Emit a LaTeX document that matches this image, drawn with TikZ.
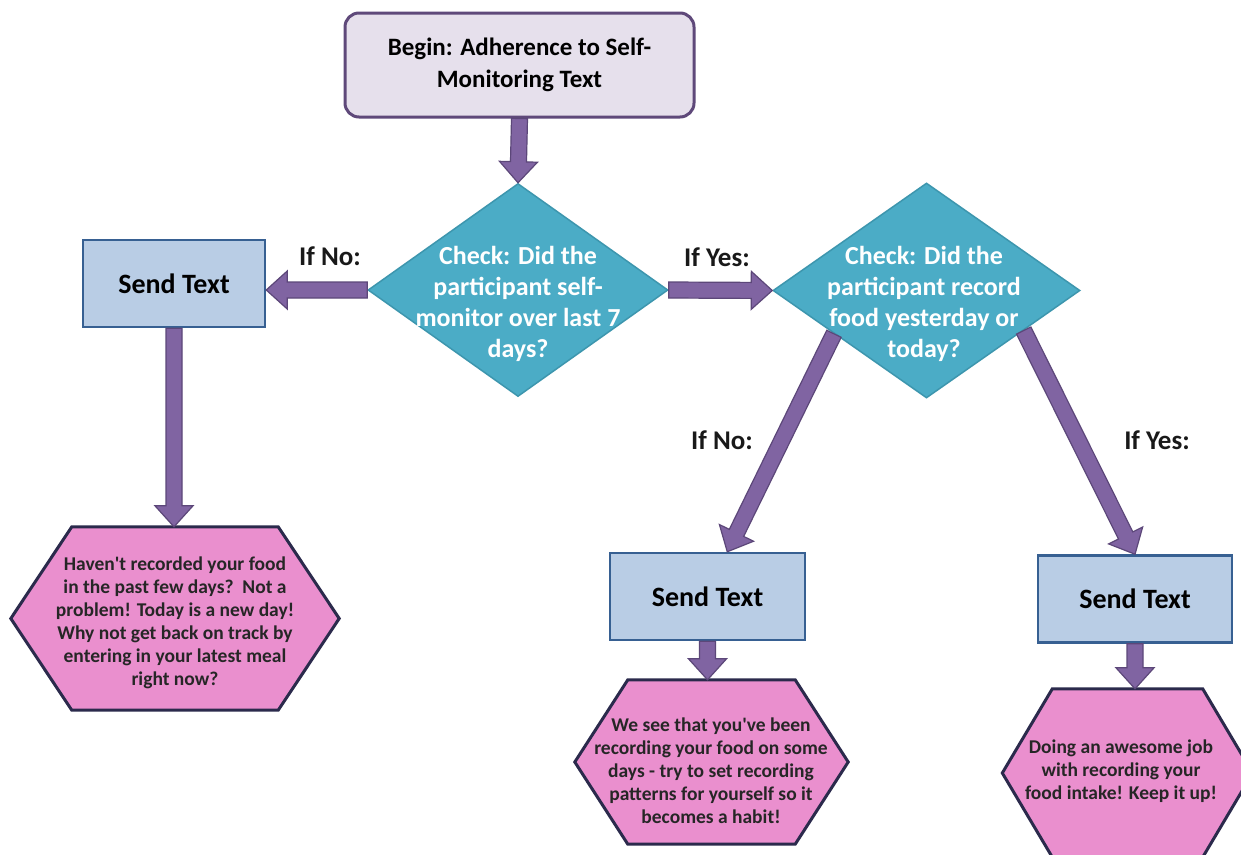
\documentclass[tikz,border=0pt]{standalone}
\usepackage{fontspec}
\setmainfont{Carlito}
\usetikzlibrary{shapes.geometric,calc,backgrounds}
\definecolor{beginfill}{HTML}{E6E0EC}
\definecolor{beginline}{HTML}{5F497A}
\definecolor{diafill}{HTML}{4BACC6}
\definecolor{dialine}{HTML}{3D96AE}
\definecolor{sendfill}{HTML}{B9CDE5}
\definecolor{sendline}{HTML}{376092}
\definecolor{hexfill}{HTML}{EA8FCE}
\definecolor{hexline}{HTML}{2B2A4C}
\definecolor{arrfill}{HTML}{8064A2}
\definecolor{arrline}{HTML}{5C4779}
\tikzset{
 startbox/.style={draw=beginline, fill=beginfill, line width=3pt, rounded corners=14pt,
   minimum width=349pt, minimum height=104pt, align=center,
   font=\fontsize{25}{32}\selectfont\bfseries},
 sendbox/.style={draw=sendline, fill=sendfill, line width=2.5pt, minimum width=182pt,
   minimum height=87pt, font=\fontsize{28}{32}\selectfont\bfseries},
 dia/.style={diamond, draw=dialine, fill=diafill, line width=1.5pt, inner sep=0pt,
   minimum width=300pt, minimum height=213pt},
 diatext/.style={text=white, align=center, font=\fontsize{26}{31}\selectfont\bfseries},
 hexbox/.style={inner sep=0pt},
 hextext/.style={inner sep=0pt, align=center, font=\fontsize{19.5}{23}\selectfont\bfseries, text=black!85},
 hexshape/.style={draw=hexline, fill=hexfill, line width=3pt, line join=miter},
 barrow/.style={fill=arrfill, draw=arrline, line width=1.2pt, line join=miter},
 lbl/.style={font=\fontsize{27}{30}\selectfont\bfseries, text=black!90}
}
\newcommand{\hexa}[2]{%
 \begin{scope}[on background layer]
 \draw[hexshape] (#1.west) -- ($(#1.north west)+(#2,0)$) -- ($(#1.north east)+(-#2,0)$)
   -- (#1.east) -- ($(#1.south east)+(-#2,0)$) -- ($(#1.south west)+(#2,0)$) -- cycle;
 \end{scope}}
\newcommand{\blockarrow}[2]{%
 \coordinate (ba-s) at (#1);
 \coordinate (ba-e) at (#2);
 \coordinate (ba-h) at ($(ba-e)!21pt!(ba-s)$);
 \draw[barrow] ($(ba-s)!8pt!90:(ba-e)$) -- ($(ba-h)!8pt!90:(ba-e)$) -- ($(ba-h)!19pt!90:(ba-e)$)
   -- (ba-e) -- ($(ba-h)!19pt!-90:(ba-e)$) -- ($(ba-h)!8pt!-90:(ba-e)$)
   -- ($(ba-s)!8pt!-90:(ba-e)$) -- cycle;}
\begin{document}
\begin{tikzpicture}[x=1pt,y=-1pt]
\useasboundingbox (0,0) rectangle (1241,854);
\begin{scope}[on background layer]
\fill[white] (0,0) rectangle (1241,854);
\end{scope}

\node[startbox] (begin) at (519.5,65) {Begin: Adherence to Self-\\Monitoring Text};

\node[dia] (d1) at (518,290) {};
\node[diatext] (d1t) at (518,304) {Check: Did the\\participant self-\\monitor over last 7\\days?};

\node[dia, minimum width=307pt, minimum height=215pt] (d2) at (926.5,290.5) {};
\node[diatext] (d2t) at (924,304) {Check: Did the\\participant record\\food yesterday or\\today?};

\node[sendbox] (s1) at (174,283.5) {Send Text};
\node[sendbox, minimum width=195pt] (s2) at (707.5,596.5) {Send Text};
\node[sendbox, minimum width=194pt] (s3) at (1135,599) {Send Text};

\node[hexbox, minimum width=328pt, minimum height=183pt] (h1) at (175,618.5) {};
\hexa{h1}{61}
\node[hextext] (h1t) at (175,623)
  {Haven\textquotesingle t recorded your food\\in the past few days?~~Not a\\problem! Today is a new day!\\Why not get back on track by\\entering in your latest meal\\right now?};
\node[hexbox, minimum width=273pt, minimum height=164pt] (h2) at (711.5,762) {};
\hexa{h2}{53}
\node[hextext] (h2t) at (711,771)
  {We see that you\textquotesingle ve been\\recording your food on some\\days - try to set recording\\patterns for yourself so it\\becomes a habit!};
\node[hexbox, minimum width=250pt, minimum height=168pt] (h3) at (1127.5,773) {};
\hexa{h3}{50}
\node[hextext] (h3t) at (1121,771)
  {Doing an awesome job\\with recording your\\food intake! Keep it up!};

\blockarrow{begin.south}{d1.north}
\blockarrow{d1.west}{s1.east |- d1.west}
\blockarrow{d1.east}{d2.west}
\blockarrow{s1.south}{s1.south |- h1.north}
\blockarrow{$(d2.west)!0.4!(d2.south)$}{$(s2.north west)!0.6!(s2.north east)$}
\blockarrow{$(d2.east)!0.37!(d2.south)$}{s3.north}
\blockarrow{s2.south}{s2.south |- h2.north}
\blockarrow{s3.south}{s3.south |- h3.north}

\node[lbl] (l1) at (330,256) {If No:};
\node[lbl] (l2) at (717,257) {If Yes:};
\node[lbl] (l3) at (722,440) {If No:};
\node[lbl] (l4) at (1157,440) {If Yes:};
\end{tikzpicture}
\end{document}
